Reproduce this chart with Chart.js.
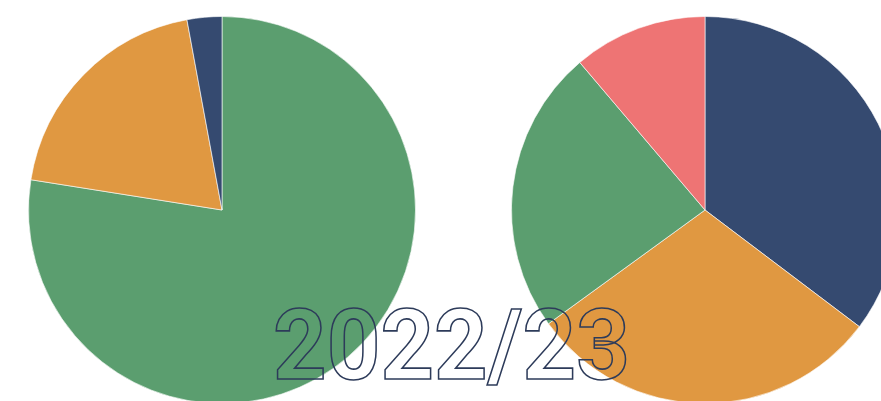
<!DOCTYPE html>
<html>
<head>
<meta charset="utf-8">
<script src="https://cdn.jsdelivr.net/npm/chart.js@4"></script>
<style>
  html, body { margin: 0; padding: 0; background: #fff; }
  body { width: 881px; height: 401px; overflow: hidden; position: relative; }
  .pie { position: absolute; top: 16px; width: 388px; height: 388px; }
  #left-pie { left: 28px; }
  #right-pie { left: 511px; }
  #season {
    position: absolute; left: 273px; top: 297px;
    font-family: Roboto, sans-serif; font-weight: 700; font-size: 98px;
    line-height: 1;
    color: transparent; -webkit-text-stroke: 1.6px #2d3b5a;
    white-space: nowrap;
    transform: scaleX(0.955); transform-origin: left top;
  }
</style>
</head>
<body>
<div class="pie" id="left-pie"><canvas id="chart-left" width="388" height="388"></canvas></div>
<div class="pie" id="right-pie"><canvas id="chart-right" width="388" height="388"></canvas></div>
<div id="season">2022/23</div>
<script>
const leftLabels = ['Green', 'Orange', 'Blue'];
const leftValues = [77.5, 19.6, 2.9];
const leftColors = ['#5b9e6f', '#e09841', '#354a70'];

const rightLabels = ['Blue', 'Orange', 'Green', 'Red'];
const rightValues = [35.3, 29.7, 23.8, 11.2];
const rightColors = ['#354a70', '#e09841', '#5b9e6f', '#ee7474'];

function makePie(id, labels, values, colors) {
  const ctx = document.getElementById(id).getContext('2d');
  return new Chart(ctx, {
    type: 'pie',
    data: {
      labels: labels,
      datasets: [{
        data: values,
        backgroundColor: colors,
        borderColor: 'rgba(255,255,255,0.6)',
        borderWidth: 1
      }]
    },
    options: {
      responsive: false,
      animation: false,
      layout: { padding: 0 },
      plugins: {
        legend: { display: false },
        tooltip: { enabled: false }
      }
    }
  });
}

makePie('chart-left', leftLabels, leftValues, leftColors);
makePie('chart-right', rightLabels, rightValues, rightColors);
</script>
</body>
</html>
